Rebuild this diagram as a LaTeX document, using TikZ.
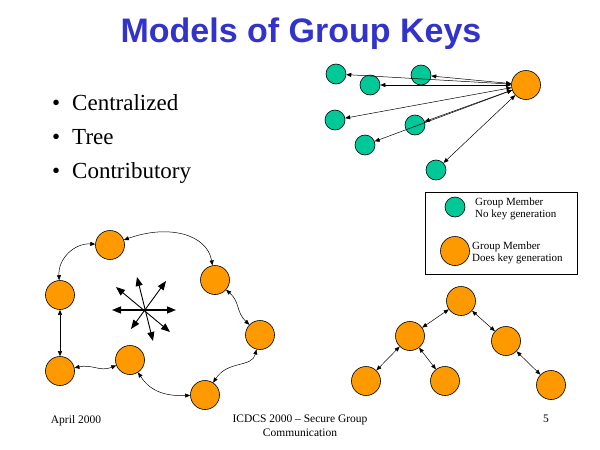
\documentclass[tikz,border=0pt]{standalone}
\usepackage{fontspec}
\setmainfont{Liberation Serif}
\newfontfamily\titlefont{Liberation Sans}
\usetikzlibrary{arrows.meta}
\definecolor{titleblue}{RGB}{51,51,204}
\definecolor{memberteal}{RGB}{0,200,150}
\definecolor{keyorange}{RGB}{255,153,0}
\begin{document}
\begin{tikzpicture}[x=1pt,y=-1pt,
  member/.style={circle,draw=black,line width=0.6pt,fill=memberteal,minimum size=20pt,inner sep=0pt},
  keygen/.style={circle,draw=black,line width=0.6pt,fill=keyorange,minimum size=29pt,inner sep=0pt},
  link/.style={line width=0.5pt,{Triangle[length=5pt,width=4pt]}-{Triangle[length=5pt,width=4pt]}},
  bcast/.style={line width=0.9pt,{Triangle[length=9pt,width=7pt]}-{Triangle[length=9pt,width=7pt]}},
  legendtext/.style={font=\fontsize{11pt}{12.5pt}\selectfont,align=left,anchor=west,inner sep=0pt},
  foottext/.style={font=\fontsize{11.5pt}{14pt}\selectfont,align=center,inner sep=0pt,anchor=north}]
\useasboundingbox (0,0) rectangle (600,450);
\fill[white] (0,0) rectangle (600,450);

% title
\node[font=\titlefont\bfseries\fontsize{34pt}{38pt}\selectfont,text=titleblue] (title) at (301,34) {Models of Group Keys};

% bullet list
\foreach \txt [count=\i] in {Centralized,Tree,Contributory}{
  \node[font=\fontsize{23pt}{26pt}\selectfont,anchor=base west,inner sep=0pt] (item\i) at (52,110+34*\i-34) {\textbullet\hspace{12pt}\txt};
}

% centralized: one key generator, many members
\node[keygen] (o) at (526,85) {};
\node[member] (c1) at (336,74) {};
\node[member] (c2) at (370,85) {};
\node[member] (c3) at (421,75) {};
\node[member] (c4) at (335,120) {};
\node[member] (c5) at (415,125) {};
\node[member] (c6) at (365,145) {};
\node[member] (c7) at (436,170) {};
\foreach \c in {c1,c2,c3,c4,c5,c6,c7}{ \draw[link] (\c) -- (o); }

% legend
\node[draw=black,line width=0.6pt,minimum width=152pt,minimum height=82pt,inner sep=0pt] (legend) at (501,233) {};
\node[member] (lm) at (455,207) {};
\node[legendtext] (lmtext) at (475,209) {Group Member\\No key generation};
\node[keygen] (lk) at (455,251) {};
\node[legendtext] (lktext) at (472,253) {Group Member\\Does key generation};

% contributory: ring of key generators
\node[keygen] (r1) at (110,245) {};
\node[keygen] (r2) at (60,295) {};
\node[keygen] (r3) at (60,371) {};
\node[keygen] (r4) at (130,360) {};
\node[keygen] (r5) at (205,395) {};
\node[keygen] (r6) at (260,335) {};
\node[keygen] (r7) at (215,280) {};
\draw[link] (r1) .. controls (75,243) and (58,258) .. (r2);
\draw[link] (r2) -- (r3);
\draw[link] (r3) .. controls (92,364) and (100,372) .. (r4);
\draw[link] (r4) .. controls (152,394) and (170,396) .. (r5);
\draw[link] (r5) .. controls (228,360) and (252,368) .. (r6);
\draw[link] (r6) .. controls (236,312) and (240,302) .. (r7);
\draw[link] (r7) .. controls (207,234) and (168,224) .. (r1);

% broadcast star
\coordinate (sL) at (112,310);  \coordinate (sR) at (176,310);
\coordinate (sU) at (137,277);  \coordinate (sD) at (153,341);
\coordinate (sUL) at (116,287); \coordinate (sDR) at (170,332);
\coordinate (sUR) at (166,281); \coordinate (sDL) at (131,329);
\draw[bcast,line width=1.5pt] (sL) -- (sR);
\draw[bcast] (sU) -- (sD);
\draw[bcast] (sUL) -- (sDR);
\draw[bcast] (sUR) -- (sDL);

% tree of key generators
\node[keygen] (t1) at (461,301) {};
\node[keygen] (t2) at (410,336) {};
\node[keygen] (t3) at (506,341) {};
\node[keygen] (t4) at (366,381) {};
\node[keygen] (t5) at (445,381) {};
\node[keygen] (t6) at (551,385) {};
\draw[link] (t1) -- (t2);
\draw[link] (t1) -- (t3);
\draw[link] (t2) -- (t4);
\draw[link] (t2) -- (t5);
\draw[link] (t3) -- (t6);

% footer
\node[foottext] (date) at (76,415) {April 2000};
\node[foottext] (conf) at (300,415) {ICDCS 2000 -- Secure Group\\Communication};
\node[foottext] (page) at (546,415) {5};
\end{tikzpicture}
\end{document}
